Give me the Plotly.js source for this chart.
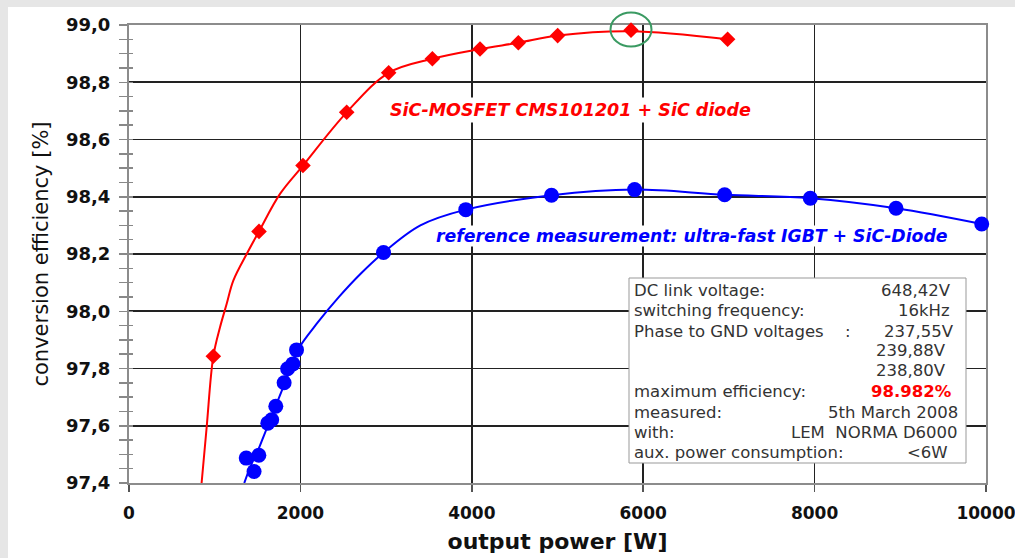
<!DOCTYPE html>
<html><head><meta charset="utf-8">
<script src="https://cdn.plot.ly/plotly-3.0.1.min.js"></script>
<style>html,body{margin:0;padding:0;background:#e6e6e6;} #chart{width:1015px;height:558px;}</style>
</head><body><div id="chart"></div>
<script>
// ---- data ----
const mosfetPower = [984, 1517, 2030, 2540, 3030, 3540, 4096, 4543, 5002, 5858, 6985];
const mosfetEff   = [97.843, 98.279, 98.509, 98.695, 98.833, 98.882, 98.916, 98.938, 98.963, 98.982, 98.95];
const mosfetFitPower = [847, 906, 984, 1062, 1140, 1217, 1373, 1517, 1762, 2030, 2540, 3030, 3540, 4096, 4543, 5002, 5858, 6985];
const mosfetFitEff   = [97.40, 97.594, 97.843, 97.944, 98.026, 98.107, 98.20, 98.279, 98.41, 98.509, 98.695, 98.833, 98.882, 98.916, 98.938, 98.963, 98.978, 98.95];

const igbtPower = [1368, 1459, 1515, 1620, 1665, 1713, 1810, 1851, 1912, 1955, 2970, 3930, 4930, 5900, 6950, 7950, 8950, 9950];
const igbtEff   = [97.487, 97.44, 97.497, 97.609, 97.621, 97.668, 97.75, 97.799, 97.816, 97.865, 98.205, 98.355, 98.405, 98.425, 98.407, 98.395, 98.36, 98.305];
const igbtFitPower = [1345, 1420, 1500, 1580, 1660, 1740, 1820, 1900, 1980, 2200, 2450, 2700, 2970, 3400, 3930, 4930, 5900, 6950, 7950, 8950, 9950];
const igbtFitEff   = [97.40, 97.46, 97.51, 97.57, 97.63, 97.69, 97.75, 97.81, 97.87, 97.96, 98.05, 98.13, 98.205, 98.30, 98.355, 98.405, 98.425, 98.407, 98.395, 98.36, 98.305];

const xTickVals = [0, 2000, 4000, 6000, 8000, 10000];
const xTickText = ['0', '2000', '4000', '6000', '8000', '10000'];
const yTickVals = [97.4, 97.6, 97.8, 98.0, 98.2, 98.4, 98.6, 98.8, 99.0];
const yTickText = ['97,4', '97,6', '97,8', '98,0', '98,2', '98,4', '98,6', '98,8', '99,0'];

const mosfetLabel = 'SiC-MOSFET CMS101201 + SiC diode';
const igbtLabel = 'reference measurement: ultra-fast IGBT + SiC-Diode';
const infoLabels = ['DC link voltage:', 'switching frequency:', 'Phase to GND voltages', '', '', 'maximum efficiency:', 'measured:', 'with:', 'aux. power consumption:'];
const infoValues = ['648,42V', '16kHz', '237,55V', '239,88V', '238,80V', '98.982%', '5th March 2008', 'LEM&nbsp;&nbsp;NORMA D6000', '&lt;6W'];

// ---- layout helpers ----
const PL = 129, PR = 986, PT = 25, PB = 483, W = 1015, H = 558;
const px = x => (x - PL) / (PR - PL);
const py = y => (PB - y) / (PB - PT);
const rowY = [290.7, 310.7, 331, 350.3, 370, 391, 412.3, 432.3, 452.7];
const valRight = [953, 952, 956, 948, 948, 954, 960, 960, 950];
const FONT = 'DejaVu Sans';
const INFO_SIZE = 16.5;

const traces = [
  {x: mosfetFitPower, y: mosfetFitEff, mode: 'lines', line: {color: '#ff0000', width: 2, shape: 'spline', smoothing: 1}, hoverinfo: 'skip'},
  {x: mosfetPower, y: mosfetEff, mode: 'markers', marker: {symbol: 'diamond', size: 12, color: '#ff0000'}, cliponaxis: false},
  {x: igbtFitPower, y: igbtFitEff, mode: 'lines', line: {color: '#0000ff', width: 2, shape: 'spline', smoothing: 1}, hoverinfo: 'skip'},
  {x: igbtPower, y: igbtEff, mode: 'markers', marker: {symbol: 'circle', size: 15, color: '#0000ff'}, cliponaxis: false},
  {x: [0], y: [97.4], yaxis: 'y2', mode: 'markers', marker: {opacity: 0}, hoverinfo: 'skip'}
];

const annotations = [];
annotations.push({xref: 'paper', yref: 'paper', x: px(570), y: py(110), xanchor: 'center', yanchor: 'middle', showarrow: false,
  text: '<b><i>' + mosfetLabel + '</i></b>', font: {family: FONT, size: 17.5, color: '#ff0000'}, bgcolor: 'white', borderpad: 2});
annotations.push({xref: 'paper', yref: 'paper', x: px(692), y: py(236), xanchor: 'center', yanchor: 'middle', showarrow: false,
  text: '<b><i>' + igbtLabel + '</i></b>', font: {family: FONT, size: 17.3, color: '#0000ff'}, bgcolor: 'white', borderpad: 0});
infoLabels.forEach((t, i) => {
  if (!t) return;
  annotations.push({xref: 'paper', yref: 'paper', x: px(632), y: py(rowY[i]), xanchor: 'left', yanchor: 'middle', showarrow: false,
    text: t, font: {family: FONT, size: INFO_SIZE, color: '#333'}});
});
infoValues.forEach((t, i) => {
  const isMax = i === 5;
  annotations.push({xref: 'paper', yref: 'paper', x: px(valRight[i]), y: py(rowY[i]), xanchor: 'right', yanchor: 'middle', showarrow: false,
    text: isMax ? '<b>' + t + '</b>' : t, font: {family: FONT, size: INFO_SIZE, color: isMax ? '#ff0000' : '#333'}});
});
annotations.push({xref: 'paper', yref: 'paper', x: px(848), y: py(331), xanchor: 'center', yanchor: 'middle', showarrow: false,
  text: ':', font: {family: FONT, size: INFO_SIZE, color: '#333'}});

const shapes = [
  {type: 'rect', xref: 'paper', yref: 'paper', x0: px(8), x1: px(W + 5), y0: py(H + 5), y1: py(7), fillcolor: 'white', line: {width: 0}, layer: 'below'},
  {type: 'rect', xref: 'paper', yref: 'paper', x0: px(629), x1: px(966), y0: py(463), y1: py(278), fillcolor: 'white', line: {color: '#999', width: 1}, layer: 'above'},
  {type: 'circle', xref: 'paper', yref: 'paper', x0: px(610.5), x1: px(651.5), y0: py(46.5), y1: py(12.5), line: {color: '#3a9a62', width: 2}, layer: 'above'}
];

const layout = {
  width: W, height: H,
  margin: {l: PL, r: W - PR, t: PT, b: H - PB, pad: 0},
  paper_bgcolor: '#e6e6e6', plot_bgcolor: 'white',
  showlegend: false,
  xaxis: {
    range: [0, 10000], tickmode: 'array', tickvals: xTickVals, ticktext: xTickText,
    ticks: 'outside', ticklen: 7, tickcolor: '#555', tickwidth: 1.5,
    showgrid: true, gridcolor: '#222', gridwidth: 1.6, zeroline: false,
    showline: true, mirror: true, linecolor: '#8c8c8c', linewidth: 2,
    tickfont: {family: FONT, size: 17, weight: 'bold', color: '#111'},
    ticklabelstandoff: 7, ticklabeloverflow: 'allow',
    title: {text: 'output power [W]', font: {family: FONT, size: 22, weight: 'bold', color: '#111'}, standoff: 11},
    layer: 'below traces', fixedrange: true
  },
  yaxis: {
    range: [97.4, 99.0], tickmode: 'array', tickvals: yTickVals, ticktext: yTickText,
    ticks: 'outside', ticklen: 8, tickcolor: '#888', tickwidth: 1.5,
    minor: {tickmode: 'linear', tick0: 97.4, dtick: 0.05, ticks: 'outside', ticklen: 8, tickcolor: '#888', tickwidth: 1.5, showgrid: false},
    showgrid: true, gridcolor: '#222', gridwidth: 1.6, zeroline: false,
    showline: true, mirror: true, linecolor: '#8c8c8c', linewidth: 2,
    tickfont: {family: FONT, size: 18, weight: 'bold', color: '#111'},
    ticklabelstandoff: 5, ticklabeloverflow: 'allow',
    title: {text: 'conversion efficiency [%]', font: {family: FONT, size: 21, color: '#111'}, standoff: 12},
    layer: 'below traces', fixedrange: true
  },
  yaxis2: {
    overlaying: 'y', side: 'left', range: [97.4, 99.0], tickmode: 'linear', tick0: 97.4, dtick: 0.2,
    ticks: 'inside', ticklen: 4, tickcolor: '#888', tickwidth: 1.5, showticklabels: false,
    minor: {tickmode: 'linear', tick0: 97.4, dtick: 0.05, ticks: 'inside', ticklen: 4, tickcolor: '#888', tickwidth: 1.5, showgrid: false},
    showgrid: false, zeroline: false, showline: false, fixedrange: true
  },
  annotations: annotations,
  shapes: shapes
};

Plotly.newPlot('chart', traces, layout, {displayModeBar: false, staticPlot: true});
</script>
</body></html>
